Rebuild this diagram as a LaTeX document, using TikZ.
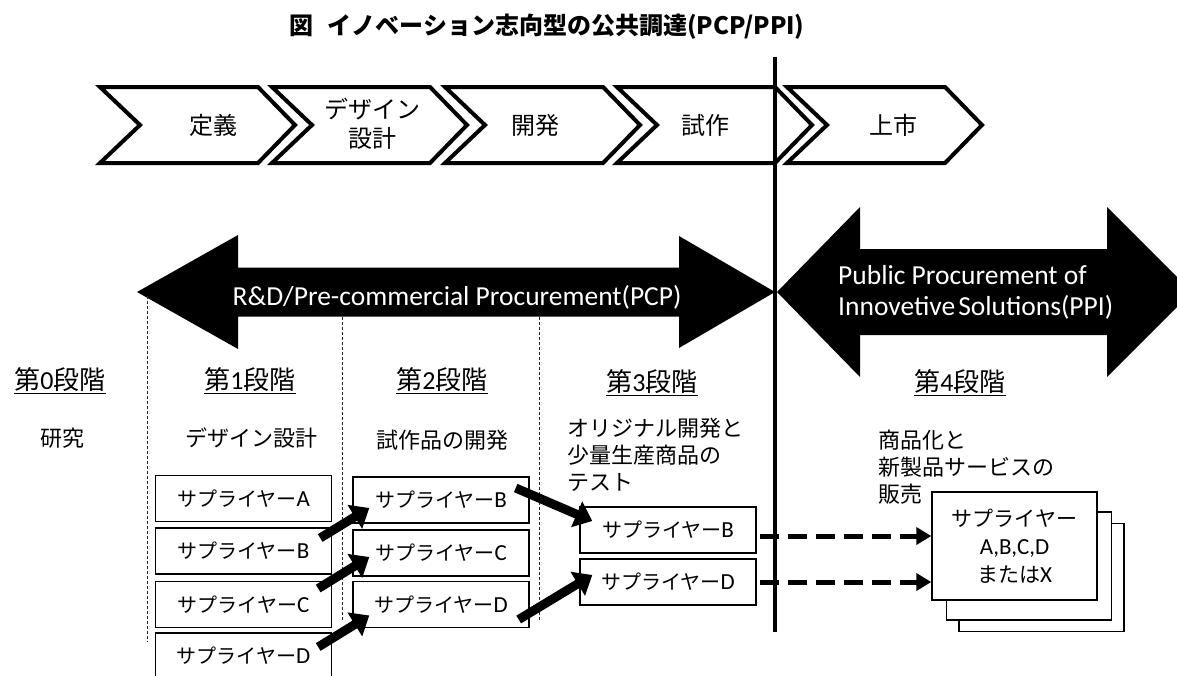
\documentclass[tikz,border=0pt]{standalone}
\usepackage{fontspec}
\setmainfont{Noto Sans CJK JP}
\newfontfamily\lat{Carlito}
\newcommand{\bl}[1]{{\lat\fontsize{23}{24}\selectfont #1}}
\usetikzlibrary{arrows.meta,calc}
\begin{document}
\begin{tikzpicture}[x=1pt,y=-1pt,
  chev/.style={draw=black, line width=4pt, line join=miter, miter limit=10},
  chevtext/.style={font=\fontsize{24}{29}\selectfont, align=center, inner sep=0pt},
  hdr/.style={font=\fontsize{26}{28}\selectfont, inner sep=0pt},
  subt/.style={font=\fontsize{22}{27}\selectfont, align=left, inner sep=0pt},
  sbox/.style={draw=black, line width=1.4pt, fill=white, minimum width=176pt, minimum height=46pt, inner sep=0pt, font=\fontsize{20}{24}\selectfont},
  stackbox/.style={draw=black, line width=1.4pt, fill=white, minimum width=165pt, minimum height=108pt, inner sep=0pt},
  bigarrow/.style={line width=9pt, -{Triangle[length=17pt,width=27pt]}},
  dasharrow/.style={line width=5pt, dash pattern=on 19pt off 9pt, -{Triangle[length=15pt,width=17pt]}},
  divider/.style={line width=0.8pt, black!85, dash pattern=on 3pt off 2pt},
  banner/.style={fill=black},
  bantext/.style={text=white, font=\lat\fontsize{27.5}{31}\selectfont, inner sep=0pt}
]
\fill[white] (0,0) rectangle (1177,675);
\useasboundingbox (0,0) rectangle (1177,675);

% title
\node[font=\bfseries\fontsize{24}{28}\selectfont, inner sep=0pt] (title) at (547,27) {図\hspace{14pt}イノベーション志向型の公共調達(PCP/PPI)};

% chevrons
\foreach \x in {100,272,445,617,787}{
  \draw[chev] (\x,87) -- (\x+158,87) -- (\x+195,125) -- (\x+158,163) -- (\x,163) -- (\x+40,125) -- cycle;
}
\node[chevtext] (ch1) at (213,125) {定義};
\node[chevtext] (ch2) at (372,124) {デザイン\\設計};
\node[chevtext] (ch3) at (535,125) {開発};
\node[chevtext] (ch4) at (705,125) {試作};
\node[chevtext] (ch5) at (893,125) {上市};

% big double arrows
\fill[banner] (137,292) -- (238,235) -- (238,267.5) -- (679,267.5) -- (679,236) -- (775,292) -- (679,348) -- (679,316.5) -- (238,316.5) -- (238,349) -- cycle;
\fill[banner] (777,292) -- (860,207) -- (860,249) -- (1107,249) -- (1107,207) -- (1192,292) -- (1107,377) -- (1107,335) -- (860,335) -- (860,377) -- cycle;
\node[bantext] (pcp) at (457,297) {R\&D/Pre-commercial Procurement(PCP)};
\node[bantext, align=left, anchor=west] (ppi) at (838,292) {Public Procurement of\\Innovetive\hspace{3pt}Solutions(PPI)};

% dividers
\draw[divider] (147,296) -- (147,642);
\draw[divider] (342,317) -- (342,620);
\draw[divider] (539,317) -- (539,622);

% main vertical line
\draw[line width=4pt] (775,57) -- (775,632);

% stage headers
\node[hdr] (s0) at (60,381) {\underline{第{\lat 0}段階}};
\node[hdr] (s1) at (250,381) {\underline{第{\lat 1}段階}};
\node[hdr] (s2) at (442,381) {\underline{第{\lat 2}段階}};
\node[hdr] (s3) at (652,383) {\underline{第{\lat 3}段階}};
\node[hdr] (s4) at (960,383) {\underline{第{\lat 4}段階}};

% stage descriptions
\node[subt] (d0) at (62,438) {研究};
\node[subt] (d1) at (251,438) {デザイン設計};
\node[subt] (d2) at (442,440) {試作品の開発};
\node[subt, anchor=west] (d3) at (567,455) {オリジナル開発と\\少量生産商品の\\テスト};
\node[subt, anchor=west] (d4) at (878,467) {商品化と\\新製品サービスの\\販売};

% supplier boxes
\node[sbox] (c1a) at (243.5,498.5) {サプライヤー\bl{A}};
\node[sbox] (c1b) at (243.5,551) {サプライヤー\bl{B}};
\node[sbox] (c1c) at (243.5,604.5) {サプライヤー\bl{C}};
\node[sbox] (c1d) at (243.5,656) {サプライヤー\bl{D}};
\node[sbox] (c2b) at (441,500) {サプライヤー\bl{B}};
\node[sbox] (c2c) at (441,553) {サプライヤー\bl{C}};
\node[sbox] (c2d) at (441,604.5) {サプライヤー\bl{D}};
\node[sbox] (c3b) at (668,530) {サプライヤー\bl{B}};
\node[sbox] (c3d) at (668,582) {サプライヤー\bl{D}};

% stacked boxes
\node[stackbox] (back2) at (1041.5,577.5) {};
\node[stackbox] (back1) at (1029,566) {};
\node[stackbox, align=center, font=\fontsize{21}{28}\selectfont] (front) at (1014.5,546) {サプライヤー\\\bl{A,B,C,D}\\または\bl{X}};

% thick arrows
\draw[bigarrow] ([xshift=-12pt,yshift=13pt]c1b.east) -- ([xshift=17pt,yshift=-8pt]c2b.west);
\draw[bigarrow] ([xshift=-14pt,yshift=16pt]c1c.east) -- ([xshift=17pt,yshift=-4pt]c2c.west);
\draw[bigarrow] ([xshift=-14pt,yshift=9pt]c1d.east) -- ([xshift=17pt,yshift=-11pt]c2d.west);
\draw[bigarrow] ([xshift=-14pt,yshift=12pt]c2b.east) -- ([xshift=13pt,yshift=9pt]c3b.west);
\draw[bigarrow] ([xshift=-11pt,yshift=-15pt]c2d.east) -- ([xshift=13pt,yshift=7pt]c3d.west);

% dashed arrows
\coordinate (db) at ([xshift=3pt,yshift=-6pt]c3b.east);
\coordinate (dd) at ([xshift=3pt]c3d.east);
\draw[dasharrow] (db) -- (db -| front.west);
\draw[dasharrow] (dd) -- (dd -| front.west);
\end{tikzpicture}
\end{document}
